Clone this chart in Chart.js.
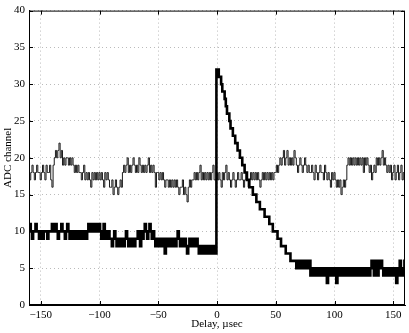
<!DOCTYPE html>
<html>
<head>
<meta charset="utf-8">
<script src="https://cdn.jsdelivr.net/npm/chart.js@4"></script>
<style>
  html, body { margin: 0; padding: 0; background: #fff; }
  #wrap { width: 409px; height: 333px; }
</style>
</head>
<body>
<div id="wrap"><canvas id="adcChart"></canvas></div>
<script>
// one sample per microsecond, -160 .. 160
var delayStart = -160;

// thin trace (background level)
var backgroundCounts = [
    18,17,18,19,18,17,18,19,18,18,
    17,18,19,18,17,19,18,18,19,17,
    16,19,20,21,20,21,22,20,21,19,
    20,19,20,20,19,20,19,20,19,18,
    19,18,19,18,18,17,18,19,17,18,
    17,18,17,16,18,17,18,17,18,17,
    18,17,18,17,16,18,17,18,17,16,
    16,17,15,16,17,16,15,16,17,16,
    18,19,18,19,20,18,19,18,19,20,
    19,18,19,18,20,19,18,19,18,19,
    18,19,20,18,19,18,19,18,16,18,
    18,17,18,17,18,17,16,17,17,16,
    17,16,17,16,17,16,17,16,15,16,
    16,17,15,16,15,14,16,17,16,17,
    17,18,17,18,17,18,19,17,18,17,
    18,17,18,17,18,17,18,19,17,17,
    18,17,18,17,16,18,17,18,19,17,
    18,17,16,17,18,17,16,17,18,17,
    17,18,17,16,17,18,17,16,17,18,
    17,18,17,18,17,18,17,16,17,18,
    17,18,17,18,17,18,17,18,17,18,
    18,19,18,19,20,19,20,21,19,20,
    21,19,20,19,20,19,21,20,19,18,
    19,20,19,18,19,20,19,18,19,18,
    18,19,18,17,19,18,17,18,19,18,
    18,17,19,18,17,18,17,16,18,17,
    18,17,16,17,16,17,15,16,17,16,
    17,19,20,19,20,19,20,19,20,19,
    20,19,20,19,20,18,20,19,20,19,
    18,19,17,18,19,18,20,19,20,19,
    20,21,19,20,19,18,19,18,19,17,
    18,19,17,18,19,17,18,19,17,18,
    17
];

// thick trace (signal with pulse at zero delay)
var signalCounts = [
    10,11,10,9,10,10,11,10,10,9,
    10,10,9,10,10,10,9,10,10,10,
    11,10,10,11,10,9,10,10,11,10,
    10,9,10,11,10,9,10,9,10,9,
    10,9,10,9,10,9,10,9,10,9,
    10,11,10,11,10,11,10,11,10,10,
    11,10,9,10,11,9,10,9,10,9,
    9,8,9,10,9,8,9,8,9,8,
    9,8,9,10,9,8,9,9,8,9,
    8,9,9,10,9,8,10,9,10,11,
    10,9,10,11,10,9,10,9,8,9,
    8,9,8,9,8,9,7,9,8,9,
    9,8,9,8,9,8,9,10,9,8,
    8,9,8,9,8,7,8,9,8,9,
    8,9,8,9,8,7,8,7,8,7,
    8,7,8,7,8,7,8,7,8,7,
    32,32,31,31,30,29,29,28,27,26,
    26,25,24,24,23,23,22,22,21,21,
    20,20,19,19,18,18,17,17,16,16,
    16,15,15,15,14,14,14,13,13,13,
    13,12,12,12,12,11,11,11,10,10,
    10,10,9,9,9,8,8,8,8,7,
    7,7,7,6,6,6,6,6,5,6,
    6,5,6,5,6,5,6,5,5,6,
    4,5,4,5,4,5,4,5,4,5,
    4,5,4,5,3,4,5,4,5,4,
    5,4,3,5,4,5,4,5,4,5,
    4,5,4,5,4,5,4,5,4,5,
    4,5,4,5,4,5,4,5,4,5,
    4,5,6,5,4,6,5,4,6,5,
    6,5,4,5,4,5,4,5,4,5,
    4,5,4,3,5,4,6,5,4,5,
    6
];

var xTicks = [-150, -100, -50, 0, 50, 100, 150];
var yTicks = [0, 5, 10, 15, 20, 25, 30, 35, 40];

function toPoints(counts) {
    return counts.map(function(v, i) { return { x: delayStart + i, y: v }; });
}

var serif = "'Liberation Serif', 'DejaVu Serif', serif";

// box frame + inward tick marks, like the original plot
var framePlugin = {
    id: 'frame',
    afterDraw: function(chart) {
        var a = chart.chartArea, c = chart.ctx;
        var xs = chart.scales.x, ys = chart.scales.y;
        c.save();
        c.strokeStyle = '#000';
        c.lineWidth = 1;
        c.strokeRect(a.left + 0.5, a.top + 0.5, a.right - a.left - 1, a.bottom - a.top - 1);
        c.beginPath();
        xTicks.forEach(function(t) {
            var px = Math.round(xs.getPixelForValue(t)) + 0.5;
            c.moveTo(px, a.bottom); c.lineTo(px, a.bottom - 4);
            c.moveTo(px, a.top); c.lineTo(px, a.top + 4);
        });
        yTicks.forEach(function(t) {
            var py = Math.round(ys.getPixelForValue(t)) + 0.5;
            c.moveTo(a.left, py); c.lineTo(a.left + 4, py);
            c.moveTo(a.right, py); c.lineTo(a.right - 4, py);
        });
        c.stroke();
        c.restore();
    }
};

var ctx = document.getElementById('adcChart').getContext('2d');
var adcChart = new Chart(ctx, {
    type: 'line',
    data: {
        datasets: [{
            label: 'Background',
            data: toPoints(backgroundCounts),
            borderColor: '#000',
            borderWidth: 0.9,
            pointRadius: 0,
            stepped: 'middle',
        }, {
            label: 'Signal',
            data: toPoints(signalCounts),
            borderColor: '#000',
            borderWidth: 2.6,
            pointRadius: 0,
            stepped: 'middle',
        }]
    },
    options: {
        responsive: true,
        maintainAspectRatio: false,
        animation: false,
        layout: { padding: { top: 10, right: 4, left: 0, bottom: 0 } },
        plugins: {
            legend: { display: false },
            tooltip: { enabled: false }
        },
        scales: {
            x: {
                type: 'linear',
                min: -160,
                max: 160,
                afterBuildTicks: function(scale) {
                    scale.ticks = xTicks.map(function(v) { return { value: v }; });
                },
                afterFit: function(scale) { scale.height = 28; },
                grid: { color: '#bbbbbb', lineWidth: 1, drawTicks: false },
                border: { color: '#000', dash: [1, 3] },
                ticks: {
                    color: '#000',
                    padding: 4,
                    maxRotation: 0,
                    font: { family: serif, size: 11 },
                    callback: function(v) { return String(v).replace('-', '\u2212'); }
                },
                title: {
                    display: true,
                    text: 'Delay, \u00b5sec',
                    color: '#000',
                    padding: { top: 0, bottom: 2 },
                    font: { family: serif, size: 11 }
                }
            },
            y: {
                min: 0,
                max: 40,
                afterBuildTicks: function(scale) {
                    scale.ticks = yTicks.map(function(v) { return { value: v }; });
                },
                afterFit: function(scale) { scale.width = 29; },
                grid: { color: '#bbbbbb', lineWidth: 1, drawTicks: false },
                border: { color: '#000', dash: [1, 3] },
                ticks: {
                    color: '#000',
                    padding: 4,
                    font: { family: serif, size: 11 }
                },
                title: {
                    display: true,
                    text: 'ADC channel',
                    color: '#000',
                    padding: { top: 2, bottom: 0 },
                    font: { family: serif, size: 11 }
                }
            }
        }
    },
    plugins: [framePlugin]
});
</script>
</body>
</html>
